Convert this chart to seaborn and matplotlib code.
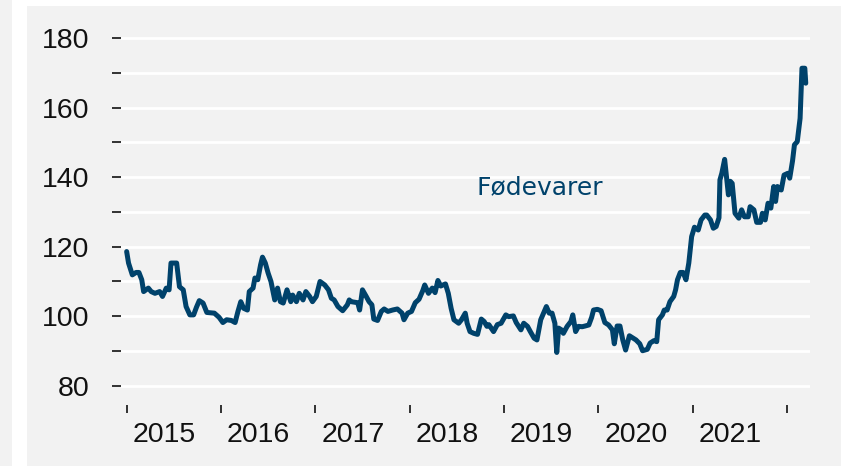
import numpy as np
import pandas as pd
import matplotlib
matplotlib.use("Agg")
import matplotlib.pyplot as plt
import seaborn as sns
from matplotlib.patches import Rectangle
from matplotlib.ticker import MultipleLocator, FixedLocator, NullFormatter

# tid i decimal-år
tid = [
    2015.00, 2015.02, 2015.06, 2015.10, 2015.13, 2015.16, 2015.18, 2015.23, 2015.26, 2015.30,
    2015.35, 2015.38, 2015.42, 2015.45, 2015.47, 2015.53, 2015.56, 2015.60, 2015.63, 2015.67,
    2015.71, 2015.74, 2015.77, 2015.81, 2015.84, 2015.85, 2015.93, 2015.98, 2016.02, 2016.06,
    2016.11, 2016.15, 2016.18, 2016.21, 2016.24, 2016.28, 2016.30, 2016.34, 2016.36, 2016.39,
    2016.42, 2016.44, 2016.47, 2016.50, 2016.53, 2016.57, 2016.60, 2016.63, 2016.66, 2016.70,
    2016.74, 2016.76, 2016.80, 2016.83, 2016.87, 2016.90, 2016.94, 2016.97, 2017.01, 2017.05,
    2017.10, 2017.14, 2017.17, 2017.20, 2017.24, 2017.29, 2017.34, 2017.36, 2017.38, 2017.45,
    2017.47, 2017.50, 2017.54, 2017.57, 2017.60, 2017.62, 2017.66, 2017.70, 2017.73, 2017.77,
    2017.82, 2017.87, 2017.92, 2017.94, 2017.98, 2018.02, 2018.06, 2018.10, 2018.14, 2018.16,
    2018.20, 2018.24, 2018.27, 2018.30, 2018.33, 2018.38, 2018.41, 2018.44, 2018.47, 2018.52,
    2018.55, 2018.59, 2018.61, 2018.64, 2018.68, 2018.72, 2018.76, 2018.79, 2018.82, 2018.84,
    2018.89, 2018.93, 2018.97, 2019.02, 2019.05, 2019.10, 2019.13, 2019.18, 2019.21, 2019.25,
    2019.28, 2019.32, 2019.35, 2019.39, 2019.42, 2019.45, 2019.48, 2019.51, 2019.54, 2019.56,
    2019.58, 2019.61, 2019.63, 2019.67, 2019.71, 2019.73, 2019.76, 2019.79, 2019.83, 2019.86,
    2019.90, 2019.93, 2019.95, 2019.99, 2020.03, 2020.07, 2020.11, 2020.15, 2020.17, 2020.20,
    2020.23, 2020.26, 2020.29, 2020.33, 2020.37, 2020.40, 2020.44, 2020.47, 2020.52, 2020.55,
    2020.59, 2020.62, 2020.64, 2020.68, 2020.70, 2020.73, 2020.76, 2020.80, 2020.82, 2020.84,
    2020.87, 2020.90, 2020.93, 2020.96, 2020.99, 2021.02, 2021.06, 2021.09, 2021.13, 2021.15,
    2021.19, 2021.22, 2021.25, 2021.28, 2021.29, 2021.31, 2021.34, 2021.36, 2021.38, 2021.40,
    2021.42, 2021.45, 2021.49, 2021.52, 2021.55, 2021.59, 2021.61, 2021.65, 2021.68, 2021.72,
    2021.74, 2021.77, 2021.80, 2021.83, 2021.86, 2021.88, 2021.90, 2021.94, 2021.97, 2022.01,
    2022.03, 2022.06, 2022.08, 2022.11, 2022.14, 2022.16, 2022.19, 2022.20,
]

# prisindeks for fødevarer
foedevarer = [
    118.6, 115.3, 111.9, 112.6, 112.6, 110.5, 107.1, 108.1, 107.1, 106.6,
    107.1, 105.7, 108.1, 107.6, 115.3, 115.3, 108.5, 107.6, 102.8, 100.4,
    100.4, 102.6, 104.5, 103.8, 101.8, 101.1, 100.9, 99.7, 98.2, 99.0,
    98.8, 98.2, 101.4, 104.2, 102.3, 101.8, 107.1, 108.1, 111.0, 110.5,
    114.8, 117.0, 115.3, 112.4, 110.0, 104.7, 108.1, 104.2, 103.8, 107.6,
    104.2, 106.1, 104.2, 106.6, 104.7, 107.1, 105.7, 104.2, 105.7, 110.0,
    109.0, 107.6, 105.2, 104.7, 102.8, 101.6, 103.3, 104.7, 104.2, 103.9,
    101.8, 107.6, 105.7, 104.2, 103.3, 99.2, 98.8, 101.4, 102.1, 101.4,
    101.8, 102.1, 100.9, 99.0, 100.9, 101.4, 103.9, 104.9, 107.4, 109.0,
    106.6, 108.1, 106.8, 110.3, 108.7, 109.3, 106.6, 102.3, 99.0, 98.0,
    99.0, 100.9, 98.0, 95.6, 95.1, 94.8, 99.2, 98.5, 97.1, 97.6,
    95.6, 97.6, 98.0, 100.4, 99.9, 100.1, 98.2, 96.1, 98.0, 97.1,
    95.6, 93.7, 93.2, 99.0, 100.9, 102.8, 100.9, 100.9, 98.0, 89.6,
    96.6, 96.1, 95.1, 97.1, 98.5, 100.4, 95.6, 97.1, 97.0, 97.2,
    97.5, 99.7, 101.8, 102.0, 101.6, 98.2, 97.5, 96.1, 92.1, 97.2,
    97.2, 93.2, 90.3, 94.4, 93.7, 93.2, 92.1, 90.1, 90.5, 92.3,
    93.0, 92.7, 99.0, 100.4, 101.8, 101.8, 104.2, 105.7, 107.6, 110.5,
    112.6, 112.6, 110.5, 115.3, 122.9, 125.6, 124.8, 127.7, 129.1, 129.1,
    127.7, 125.3, 125.8, 128.3, 139.2, 141.1, 145.1, 140.1, 134.9, 138.8,
    138.2, 129.6, 128.2, 130.6, 128.6, 128.6, 131.5, 130.6, 127.0, 127.0,
    129.6, 127.7, 132.5, 131.1, 137.3, 133.0, 137.3, 136.3, 140.6, 141.1,
    139.7, 144.7, 149.3, 150.2, 156.9, 171.3, 171.3, 167.0,
]

aar = [2015, 2016, 2017, 2018, 2019, 2020, 2021, 2022]
aar_labels = ["2015", "2016", "2017", "2018", "2019", "2020", "2021"]

df = pd.DataFrame({"tid": tid, "Fødevarer": foedevarer})

sns.set_theme(style="white")
plt.rcParams["font.family"] = ["Liberation Sans", "DejaVu Sans"]

graa = "#f2f2f2"
blaa = "#00426b"

fig = plt.figure(figsize=(8.41, 4.66), dpi=100)
fig.patch.set_facecolor("white")
# grå baggrundspaneler
fig.patches.append(Rectangle((27 / 841, 0), 1, 1 - 6 / 466, transform=fig.transFigure,
                             facecolor=graa, edgecolor="none", zorder=-10))
fig.patches.append(Rectangle((0, 0), 12 / 841, 1, transform=fig.transFigure,
                             facecolor=graa, edgecolor="none", zorder=-10))

ax = fig.add_axes([121 / 841, 1 - 405 / 466, (810 - 121) / 841, (405 - 31) / 466])
ax.set_facecolor(graa)

sns.lineplot(data=df, x="tid", y="Fødevarer", ax=ax, color=blaa, linewidth=3.6,
             legend=False)

ax.set_xlim(2014.94, 2022.245)
ax.set_ylim(74.5, 182)

for s in ax.spines.values():
    s.set_visible(False)

# y-akse
ax.yaxis.set_major_locator(MultipleLocator(20))
ax.yaxis.set_minor_locator(FixedLocator([90, 110, 130, 150, 170]))
ax.grid(which="both", axis="y", color="white", linewidth=2)
ax.tick_params(axis="y", which="both", left=True, length=6.5, width=1.3, color="#222222",
               pad=16, labelsize=20.5, labelcolor="#111111")
ax.yaxis.set_minor_formatter(NullFormatter())

# x-akse
ax.xaxis.set_major_locator(FixedLocator(aar))
ax.xaxis.set_major_formatter(NullFormatter())
ax.xaxis.set_minor_locator(FixedLocator([a + 0.4 for a in aar[:-1]]))
ax.set_xticklabels(aar_labels, minor=True)
ax.tick_params(axis="x", which="major", bottom=True, length=6, width=1.3, color="#222222")
ax.tick_params(axis="x", which="minor", bottom=True, length=0, pad=12,
               labelsize=20.5, labelcolor="#111111")

ax.set_xlabel("")
ax.set_ylabel("")

ax.text(2019.376, 135.2, "Fødevarer", color=blaa, fontsize=18, ha="center",
        va="baseline", family=["DejaVu Sans"])

fig.savefig("out.png", dpi=100, facecolor="white")
